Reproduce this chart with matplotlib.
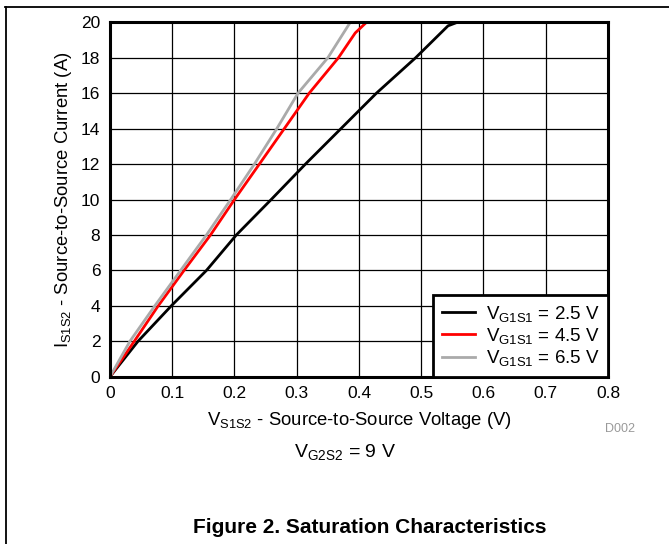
import matplotlib
matplotlib.use("Agg")
import matplotlib.pyplot as plt
from matplotlib.lines import Line2D

plt.rcParams['font.family'] = ['Liberation Sans', 'DejaVu Sans']
plt.rcParams['mathtext.fontset'] = 'custom'
plt.rcParams['mathtext.rm'] = 'Liberation Sans'

# curves, one per gate voltage
v_25 = [0, 0.045, 0.0985, 0.155, 0.203, 0.259, 0.314, 0.371, 0.428, 0.491, 0.543, 0.558]
i_25 = [0, 2, 4, 6, 8, 10, 12, 14, 16, 18, 19.8, 20]
v_45 = [0, 0.039, 0.0775, 0.119, 0.1615, 0.2, 0.24, 0.28, 0.32, 0.367, 0.394, 0.412]
i_45 = [0, 2, 4, 6, 8, 10, 12, 14, 16, 18, 19.4, 20]
v_65 = [0, 0.032, 0.072, 0.1135, 0.155, 0.194, 0.232, 0.268, 0.302, 0.35, 0.386]
i_65 = [0, 2, 4, 6, 8, 10, 12, 14, 16, 18, 20]

labels = [r'$\mathregular{V_{G1S1}}$ = 2.5 V',
          r'$\mathregular{V_{G1S1}}$ = 4.5 V',
          r'$\mathregular{V_{G1S1}}$ = 6.5 V']
colors = ['black', 'red', '#aaaaaa']

xticks = [0, 0.1, 0.2, 0.3, 0.4, 0.5, 0.6, 0.7, 0.8]
yticks = [0, 2, 4, 6, 8, 10, 12, 14, 16, 18, 20]

fig = plt.figure(figsize=(6.69, 5.44), dpi=100)
ax = fig.add_axes([0.1644, 0.3075, 0.7444, 0.6515])

for v, i, c, lab in zip([v_25, v_45, v_65], [i_25, i_45, i_65], colors, labels):
    ax.plot(v, i, color=c, lw=2, label=lab)

ax.set_xlim(0, 0.8)
ax.set_ylim(0, 20)
ax.set_xticks(xticks)
ax.set_xticklabels(['0', '0.1', '0.2', '0.3', '0.4', '0.5', '0.6', '0.7', '0.8'])
ax.set_yticks(yticks)
ax.grid(True, color='black', lw=0.9)
ax.tick_params(length=0, labelsize=12.5, pad=7)
for s in ax.spines.values():
    s.set_linewidth(2.2)

ax.set_xlabel(r'$\mathregular{V_{S1S2}}$ - Source-to-Source Voltage (V)', fontsize=13.3, labelpad=6)
ax.set_ylabel(r'$\mathregular{I_{S1S2}}$ - Source-to-Source Current (A)', fontsize=13.3, labelpad=5)

leg = ax.legend(loc='lower right', fontsize=13.5, fancybox=False, framealpha=1,
                edgecolor='black', borderaxespad=0, handlelength=1.8,
                labelspacing=0.12, handletextpad=0.55, borderpad=0.45)
leg.get_frame().set_linewidth(2)

fig.text(0.927, 0.212, 'D002', color='#999999', fontsize=9, ha='center', va='center')
fig.text(0.516, 0.169, r'$\mathregular{V_{G2S2}}$ = 9 V', fontsize=14, ha='center', va='center')
fig.text(0.553, 0.03, 'Figure 2. Saturation Characteristics', fontsize=15,
         fontweight='bold', ha='center', va='center')

# page frame lines (top and left)
fig.add_artist(Line2D([0.0075, 1.0], [0.987, 0.987], color='black', lw=1.3))
fig.add_artist(Line2D([0.009, 0.009], [0.0, 0.987], color='black', lw=1.3))

fig.savefig('out.png', dpi=100)
